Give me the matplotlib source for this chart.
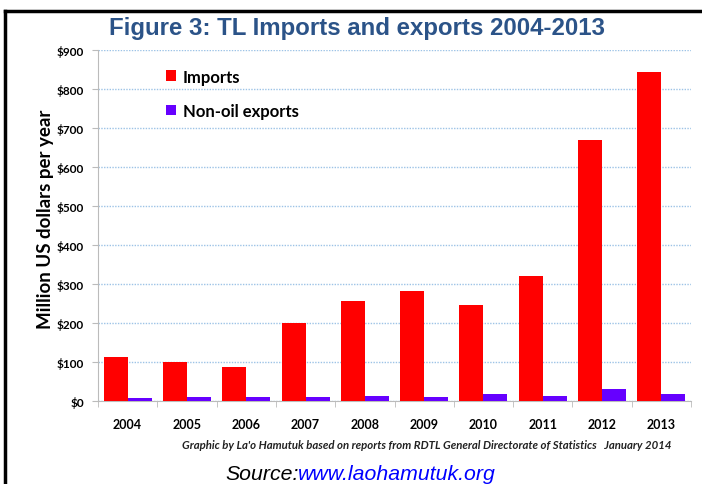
import matplotlib.pyplot as plt
import numpy as np
from matplotlib.lines import Line2D

# Million US dollars per year
years = ["2004", "2005", "2006", "2007", "2008", "2009", "2010", "2011", "2012", "2013"]
imports = [112, 101, 88, 199, 257, 283, 247, 320, 670, 844]
non_oil_exports = [8, 10, 10, 10, 14, 9, 19, 14, 32, 18]

W, H = 702, 485
RED = "#FF0000"
PURPLE = "#6600FF"
TITLE_BLUE = "#2B5388"

fig = plt.figure(figsize=(W / 100, H / 100), dpi=100)
ax = fig.add_axes([98 / W, (H - 402) / H, (691 - 98) / W, (402 - 51) / H])

x = np.arange(len(years))
bw = 0.405
ax.bar(x - bw / 2, imports, bw, color=RED, label="Imports", zorder=3)
ax.bar(x + bw / 2, non_oil_exports, bw, color=PURPLE, label="Non-oil exports", zorder=3)

ax.set_xlim(-0.5, len(years) - 0.5)
ax.set_ylim(0, 900)
ax.set_yticks(range(0, 901, 100))
ax.set_yticklabels([f"${v}" for v in range(0, 901, 100)],
                   fontfamily="Lato", fontweight="bold", fontsize=8.5)
ax.set_xticks(x)
ax.set_xticklabels(years, fontfamily="Lato", fontweight="bold", fontsize=9)
ax.set_xticks(np.arange(-0.5, len(years)), minor=True)
ax.tick_params(axis="x", which="major", length=0, pad=12)
ax.tick_params(axis="x", which="minor", length=4, color="#BBBBBB")
ax.tick_params(axis="y", length=4, color="#BBBBBB", pad=6)

ax.grid(axis="y", color="#9DC3E6", linestyle=(0, (1, 1)), linewidth=1, zorder=0)
for side in ("top", "right"):
    ax.spines[side].set_visible(False)
ax.spines["left"].set_color("#BBBBBB")
ax.spines["bottom"].set_color("#BBBBBB")

ax.set_ylabel("Million US dollars per year", fontfamily="Lato", fontweight="bold",
              fontsize=13.5)
ax.yaxis.set_label_coords(-0.074, 0.52)

leg = ax.legend(loc="upper left", bbox_to_anchor=(0.09, 0.99), frameon=False,
                prop={"family": "Lato", "weight": "bold", "size": 12},
                handlelength=0.6, handleheight=0.6, handletextpad=0.4,
                labelspacing=1.1)

fig.text(357 / W, 1 - 28 / H, "Figure 3: TL Imports and exports 2004-2013",
         ha="center", va="center", fontfamily="Liberation Sans", fontweight="bold",
         fontsize=17.3, color=TITLE_BLUE)

fig.text(672 / W, 1 - 446 / H,
         "Graphic by La'o Hamutuk based on reports from RDTL General Directorate of Statistics   January 2014",
         ha="right", va="center", fontfamily="Lato", fontweight="bold", style="italic",
         fontsize=8.2, color="#222222")

src = fig.text(225 / W, 1 - 480 / H, "Source:", ha="left", va="baseline",
               fontfamily="Liberation Sans", style="italic", fontsize=15.3, color="black")
fig.canvas.draw()
bb = src.get_window_extent()
url = fig.text(bb.x1 / W, 1 - 480 / H, "www.laohamutuk.org", ha="left", va="baseline",
               fontfamily="Liberation Sans", style="italic", fontsize=15.3, color="#0000FF")

# black frame on top and left edges
fig.add_artist(Line2D([5 / W, 1], [1 - 12 / H] * 2, color="black", linewidth=2.5))
fig.add_artist(Line2D([5 / W] * 2, [0, 1 - 12 / H], color="black", linewidth=2.5))

fig.savefig("out.png", dpi=100)
